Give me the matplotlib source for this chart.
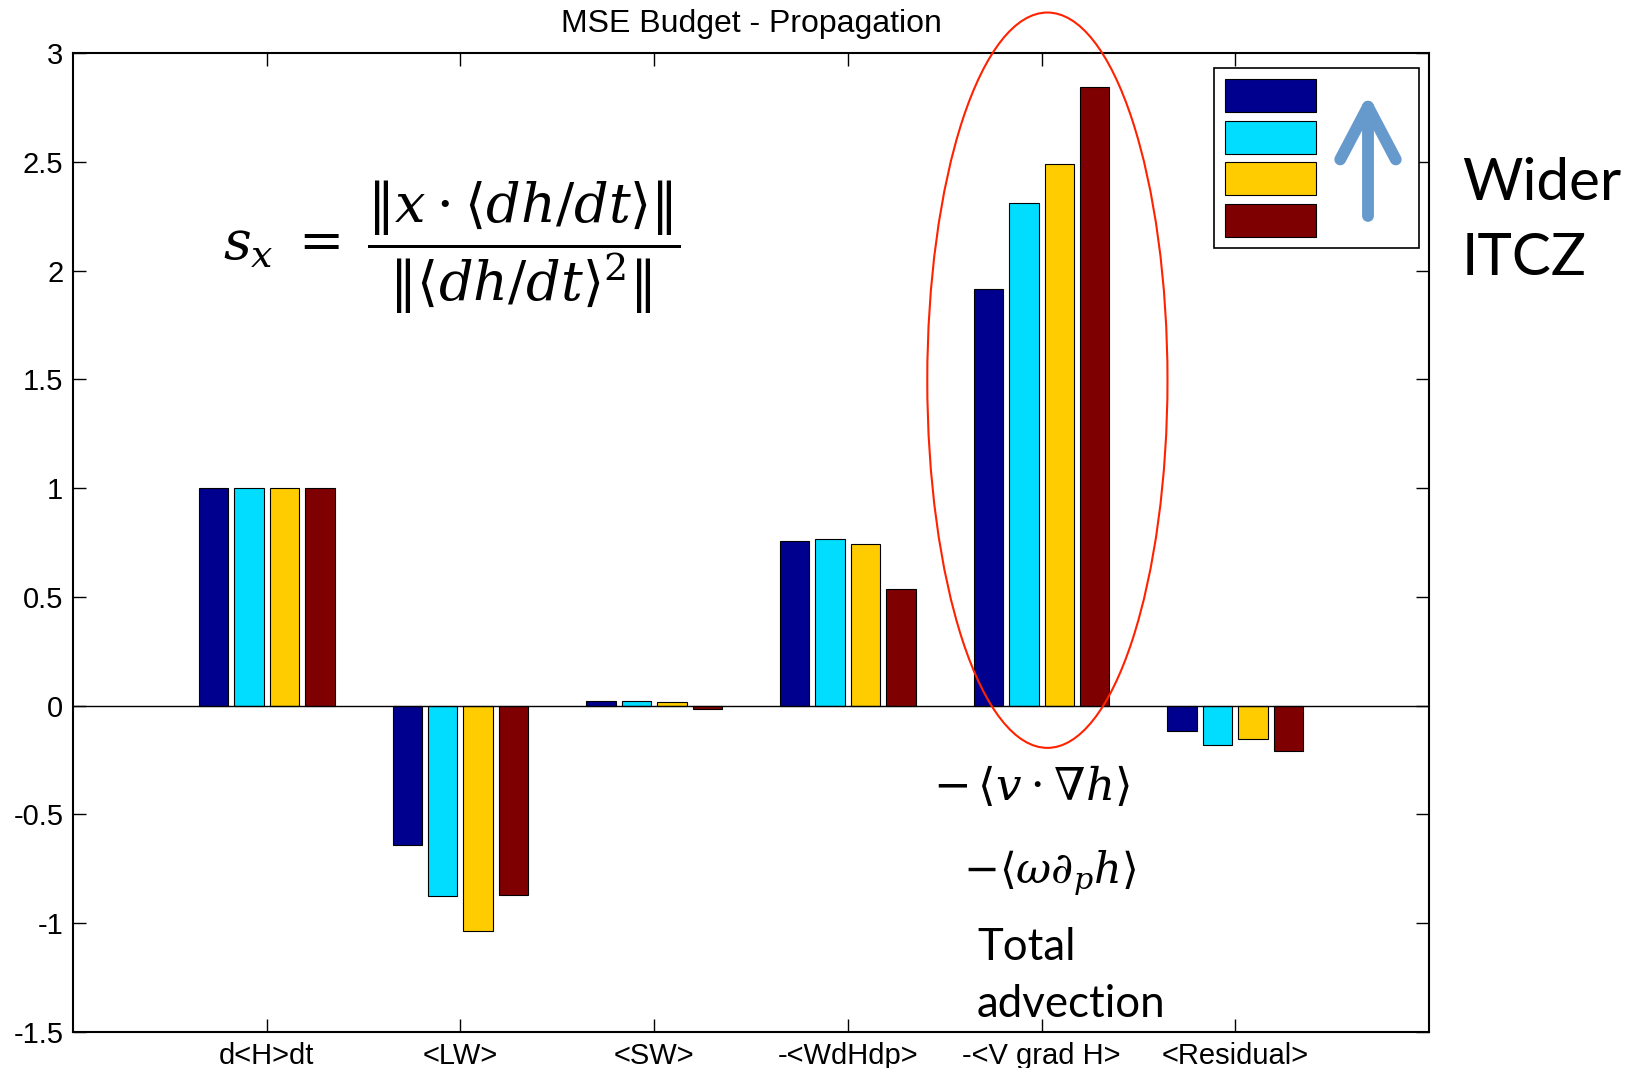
import matplotlib
matplotlib.use('Agg')
import matplotlib.pyplot as plt
import numpy as np
from matplotlib.patches import Ellipse

plt.rcParams['font.family'] = 'Liberation Sans'
plt.rcParams['mathtext.fontset'] = 'dejavuserif'

# data
categories = ['d<H>dt', '<LW>', '<SW>', '-<WdHdp>', '-<V grad H>', '<Residual>']
run1 = [1.00, -0.64, 0.02, 0.755, 1.915, -0.115]
run2 = [1.00, -0.875, 0.02, 0.765, 2.31, -0.18]
run3 = [1.00, -1.035, 0.015, 0.745, 2.49, -0.155]
run4 = [1.00, -0.87, -0.015, 0.535, 2.845, -0.21]
colors = ['#00008F', '#00DDFF', '#FFCC00', '#7F0000']
yticks = [-1.5, -1, -0.5, 0, 0.5, 1, 1.5, 2, 2.5, 3]
ytick_labels = ['-1.5', '-1', '-0.5', '0', '0.5', '1', '1.5', '2', '2.5', '3']

W, H = 1638, 1068
fig = plt.figure(figsize=(W / 100, H / 100), dpi=100)
ax = fig.add_axes([73 / W, 36 / H, 1356 / W, 979 / H])

x = np.arange(1, len(categories) + 1)
series = [run1, run2, run3, run4]
offsets = [-1.5, -0.5, 0.5, 1.5]
bars = []
for vals, off, c in zip(series, offsets, colors):
    b = ax.bar(x + off * 0.183, vals, width=0.152, color=c,
               edgecolor='black', linewidth=0.8, zorder=2)
    bars.append(b)

ax.axhline(0, color='black', lw=1, zorder=3)
ax.set_xlim(0, 7)
ax.set_ylim(-1.5, 3)
ax.set_xticks(x)
ax.set_xticklabels(categories)
ax.set_yticks(yticks)
ax.set_yticklabels(ytick_labels)
ax.tick_params(direction='in', length=9.7, width=1, top=True, right=True,
               labelsize=21, pad=7)
for s in ax.spines.values():
    s.set_linewidth(1.5)
ax.set_title('MSE Budget - Propagation', fontsize=23, pad=15)

# red ellipse around total advection
ax.add_patch(Ellipse((5.03, 1.496), 1.24, 3.38, fill=False,
                     edgecolor='#FF2200', lw=1.5, clip_on=False, zorder=4))

# legend with color boxes only
leg = ax.legend(handles=bars, labels=[''] * 4, loc='upper left',
                bbox_to_anchor=((1214 - 73) / 1356, (1032 - 68) / 979),
                borderaxespad=0, fontsize=10, handlelength=6.55,
                handleheight=3.275, labelspacing=0.62, borderpad=0.8,
                handletextpad=6.6, fancybox=False, framealpha=1,
                edgecolor='black')
leg.get_frame().set_linewidth(1.2)

# blue arrow inside legend
ax.annotate('', xy=((1368 - 73) / 1356, (1032 - 94) / 979),
            xytext=((1368 - 73) / 1356, (1032 - 216) / 979),
            xycoords='axes fraction', zorder=6,
            arrowprops=dict(arrowstyle='->,head_length=1.9,head_width=1.0',
                            mutation_scale=20, lw=8.5, color='#6699CC',
                            shrinkA=0, shrinkB=0, capstyle='round',
                            joinstyle='round'))

fig.text(1462 / W, 1 - 275 / H, 'Wider\nITCZ', family='Lato', fontsize=42,
         va='baseline', ha='left', linespacing=1.5)
fig.text(977 / W, 1 - 1017 / H, 'Total\nadvection', family='Lato', fontsize=31.5,
         va='baseline', ha='left', linespacing=1.5)

fig.text(223 / W, 1 - 247 / H,
         r'$s_x\;=\;\dfrac{\Vert x\cdot\langle dh/dt\rangle\Vert}{\Vert\langle dh/dt\rangle^2\Vert}$',
         fontsize=39, va='center', ha='left')
fig.text(933 / W, 1 - 800 / H, r'$-\,\langle v\cdot\nabla h\rangle$',
         fontsize=32.5, va='baseline', ha='left')
fig.text(963 / W, 1 - 883 / H, r'$-\langle\omega\partial_p h\rangle$',
         fontsize=31, va='baseline', ha='left')

fig.savefig('out.png', dpi=100)
